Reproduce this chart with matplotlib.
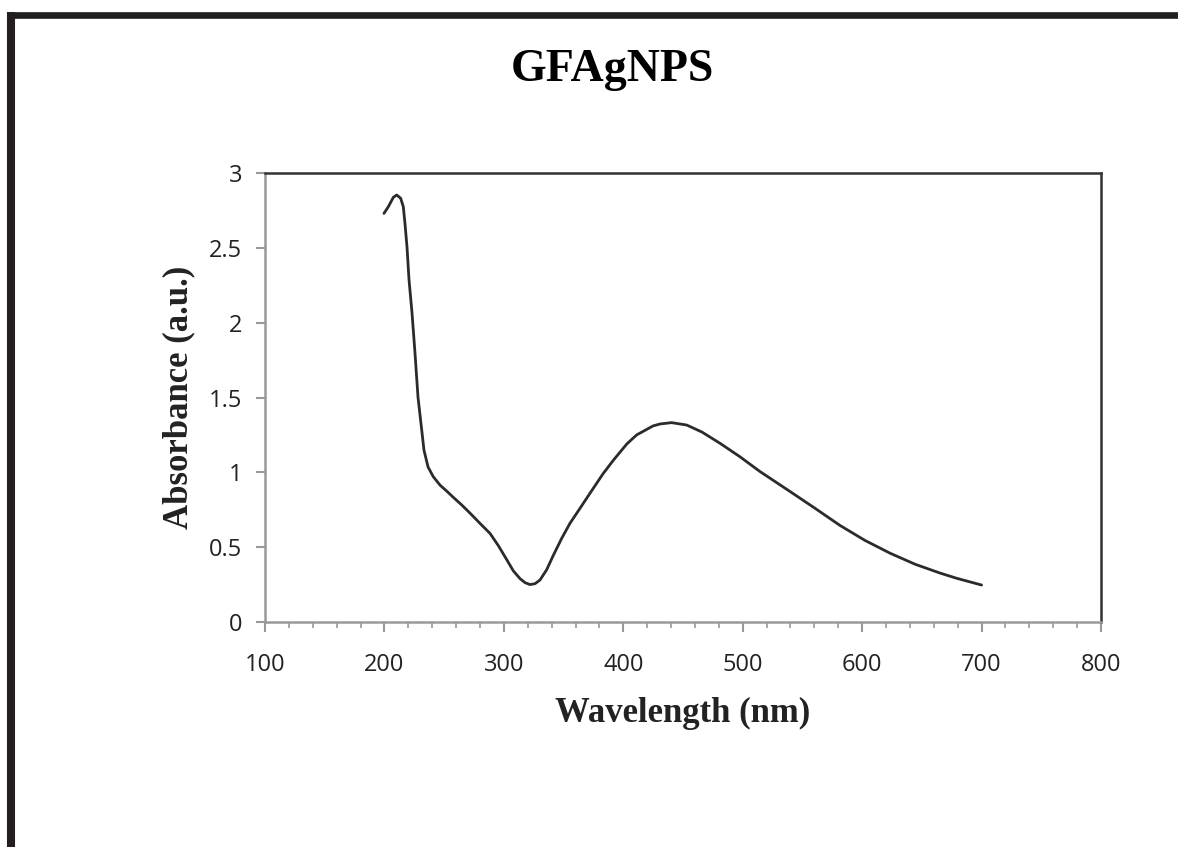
import matplotlib
matplotlib.use("Agg")
import matplotlib.pyplot as plt
from matplotlib.lines import Line2D
from matplotlib.ticker import MultipleLocator

# values
wavelength = [199.6, 203.3, 207.5, 210.3, 213.6, 215.8, 217.2, 218.9, 220.6, 223.1,
              225.6, 228.1, 231.5, 233.1, 236.5, 240.9, 246.5, 252.1, 257.4, 264.7,
              271.6, 280.0, 288.4, 295.4, 302.6, 307.9, 313.5, 317.7, 321.9, 326.1,
              330.3, 335.9, 341.1, 348.5, 355.4, 363.8, 372.1, 383.0, 391.6, 403.0,
              411.2, 424.9, 430.7, 440.5, 453.1, 465.9, 481.0, 497.7, 514.5, 539.6,
              560.5, 581.5, 602.4, 623.3, 644.3, 665.2, 679.2, 700.0]
absorbance = [2.73, 2.775, 2.838, 2.853, 2.831, 2.775, 2.664, 2.506, 2.285, 2.065,
              1.797, 1.503, 1.263, 1.149, 1.036, 0.971, 0.915, 0.875, 0.835, 0.782,
              0.728, 0.659, 0.592, 0.51, 0.414, 0.342, 0.29, 0.263, 0.250, 0.256,
              0.281, 0.35, 0.44, 0.56, 0.66, 0.76, 0.86, 0.99, 1.08, 1.19,
              1.25, 1.31, 1.323, 1.332, 1.316, 1.269, 1.194, 1.104, 1.005, 0.872,
              0.760, 0.645, 0.545, 0.460, 0.386, 0.327, 0.292, 0.247]

title = "GFAgNPS"
xlabel = "Wavelength (nm)"
ylabel = "Absorbance (a.u.)"
yticks = [0, 0.5, 1, 1.5, 2, 2.5, 3]
yticklabels = ["0", "0.5", "1", "1.5", "2", "2.5", "3"]

fig = plt.figure(figsize=(11.78, 8.47), dpi=100)
ax = fig.add_axes([265/1178, 1-622/847, (1101-265)/1178, (622-173)/847])

ax.plot(wavelength, absorbance, color="#2b2b2b", lw=2.0,
        solid_capstyle="round", solid_joinstyle="round")

ax.set_xlim(100, 800)
ax.set_ylim(0, 3)
ax.xaxis.set_major_locator(MultipleLocator(100))
ax.xaxis.set_minor_locator(MultipleLocator(20))
ax.set_yticks(yticks, yticklabels)

for lab in ax.get_xticklabels() + ax.get_yticklabels():
    lab.set_fontfamily("Open Sans")
    lab.set_fontsize(17)
    lab.set_color("#222222")

ax.tick_params(axis="x", which="major", direction="out", length=7.5, width=1.5,
               color="#999999", pad=15)
ax.tick_params(axis="x", which="minor", direction="out", length=4.5, width=1.2,
               color="#999999")
ax.tick_params(axis="y", which="major", direction="out", length=6.5, width=1.5,
               color="#999999", pad=10)
ax.tick_params(top=False, right=False)

for side in ["left", "bottom"]:
    ax.spines[side].set_color("#999999")
    ax.spines[side].set_linewidth(1.8)
for side in ["top", "right"]:
    ax.spines[side].set_color("#333333")
    ax.spines[side].set_linewidth(1.8)

ax.set_xlabel(xlabel, fontfamily="Liberation Serif", fontweight="bold",
              fontsize=25, color="#222222", labelpad=14)
ax.set_ylabel(ylabel, fontfamily="Liberation Serif", fontweight="bold",
              fontsize=25, color="#222222", labelpad=10)

fig.text(612/1178, 1-70/847, title, fontfamily="Liberation Serif", fontweight="bold",
         fontsize=33, ha="center", va="center")

# page border (left and top)
fig.add_artist(Line2D([11/1178, 11/1178], [0, 1-12/847], transform=fig.transFigure,
                      color="#231f20", lw=5.8, solid_capstyle="butt"))
fig.add_artist(Line2D([7/1178, 1], [1-15/847, 1-15/847], transform=fig.transFigure,
                      color="#231f20", lw=4.8, solid_capstyle="butt"))

fig.savefig("out.png", dpi=100)
